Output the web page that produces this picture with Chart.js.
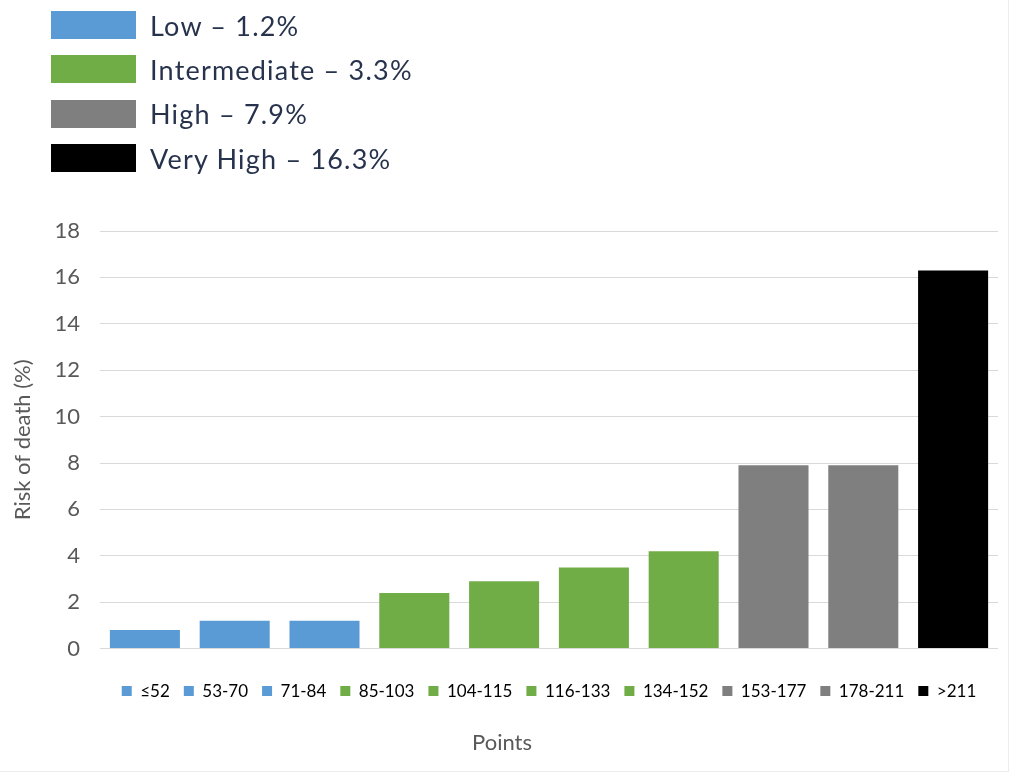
<html>
<head>
<meta charset="UTF-8">
<script src="https://cdn.jsdelivr.net/npm/chart.js"></script>
<style>
  body { margin: 0; background: #fff; }
  #wrap { position: relative; width: 1013px; height: 773px; }
  #frame { position: absolute; left: 0; top: 0; width: 1008px; height: 771px; border-right: 1px solid #ededed; border-bottom: 1px solid #ededed; }
  #riskKey { position: absolute; left: 51px; top: 3px; font-family: Lato, sans-serif; font-size: 27px; letter-spacing: 1.2px; color: #27334d; }
  #riskKey .row { display: flex; align-items: center; height: 44.3px; }
  #riskKey .sw { width: 85px; height: 28px; margin-right: 14px; }
  canvas { position: absolute; left: 0; top: 0; }
</style>
</head>
<body>
<div id="wrap">
  <div id="frame"></div>
  <canvas id="myChart" width="1013" height="773"></canvas>
  <div id="riskKey"></div>
</div>
<script>
// point ranges on the x axis
const categories = ['≤52', '53-70', '71-84', '85-103', '104-115', '116-133', '134-152', '153-177', '178-211', '>211'];
// risk of death (%) per range
const riskOfDeath = [0.8, 1.2, 1.2, 2.4, 2.9, 3.5, 4.2, 7.9, 7.9, 16.3];
// risk group of each range
const rangeGroup = ['Low', 'Low', 'Low', 'Intermediate', 'Intermediate', 'Intermediate', 'Intermediate', 'High', 'High', 'Very High'];
// overall risk per group
const groups = ['Low', 'Intermediate', 'High', 'Very High'];
const groupRisk = [1.2, 3.3, 7.9, 16.3];
const yTicks = { min: 0, max: 18, step: 2 };

const groupColor = {
  'Low': '#5b9bd5',
  'Intermediate': '#70ad47',
  'High': '#7f7f7f',
  'Very High': '#000000'
};
const barColors = rangeGroup.map(g => groupColor[g]);

// top key
const key = document.getElementById('riskKey');
groups.forEach((g, i) => {
  const row = document.createElement('div');
  row.className = 'row';
  row.innerHTML = '<span class="sw" style="background:' + groupColor[g] + '"></span><span>' + g + ' – ' + groupRisk[i] + '%</span>';
  key.appendChild(row);
});

const textGray = '#595959';

new Chart(document.getElementById('myChart'), {
  type: 'bar',
  data: {
    labels: categories,
    datasets: [{
      label: 'Risk of death',
      data: riskOfDeath,
      backgroundColor: barColors,
      barPercentage: 0.78,
      categoryPercentage: 1.0
    }]
  },
  options: {
    responsive: false,
    animation: false,
    layout: { padding: { top: 231, right: 15, bottom: 7, left: 6 } },
    scales: {
      x: {
        grid: { display: false },
        border: { display: false },
        ticks: { display: false },
        afterFit(scale) { scale.height = 20; }
      },
      y: {
        min: yTicks.min,
        max: yTicks.max,
        ticks: { stepSize: yTicks.step, color: textGray, padding: 20, font: { family: 'Lato', size: 22 } },
        grid: { color: '#d9d9d9', drawTicks: false },
        border: { display: false },
        title: { display: true, text: 'Risk of death (%)', color: textGray, font: { family: 'Lato', size: 22 }, padding: { top: 4, bottom: 0 } },
        afterFit(scale) { scale.width = 94; }
      }
    },
    plugins: {
      legend: {
        position: 'bottom',
        fullSize: false,
        onClick: null,
        labels: {
          boxWidth: 10,
          boxHeight: 10,
          padding: 14,
          color: textGray,
          font: { family: 'Lato', size: 17 },
          generateLabels: () => categories.map((c, i) => ({
            text: c,
            fillStyle: barColors[i],
            strokeStyle: barColors[i],
            lineWidth: 0,
            hidden: false,
            index: i
          }))
        }
      },
      title: {
        display: true,
        position: 'bottom',
        text: 'Points',
        color: textGray,
        font: { family: 'Lato', size: 22, weight: 'normal' },
        padding: { top: 20, bottom: 10 }
      },
      tooltip: { enabled: false }
    }
  }
});
</script>
</body>
</html>
